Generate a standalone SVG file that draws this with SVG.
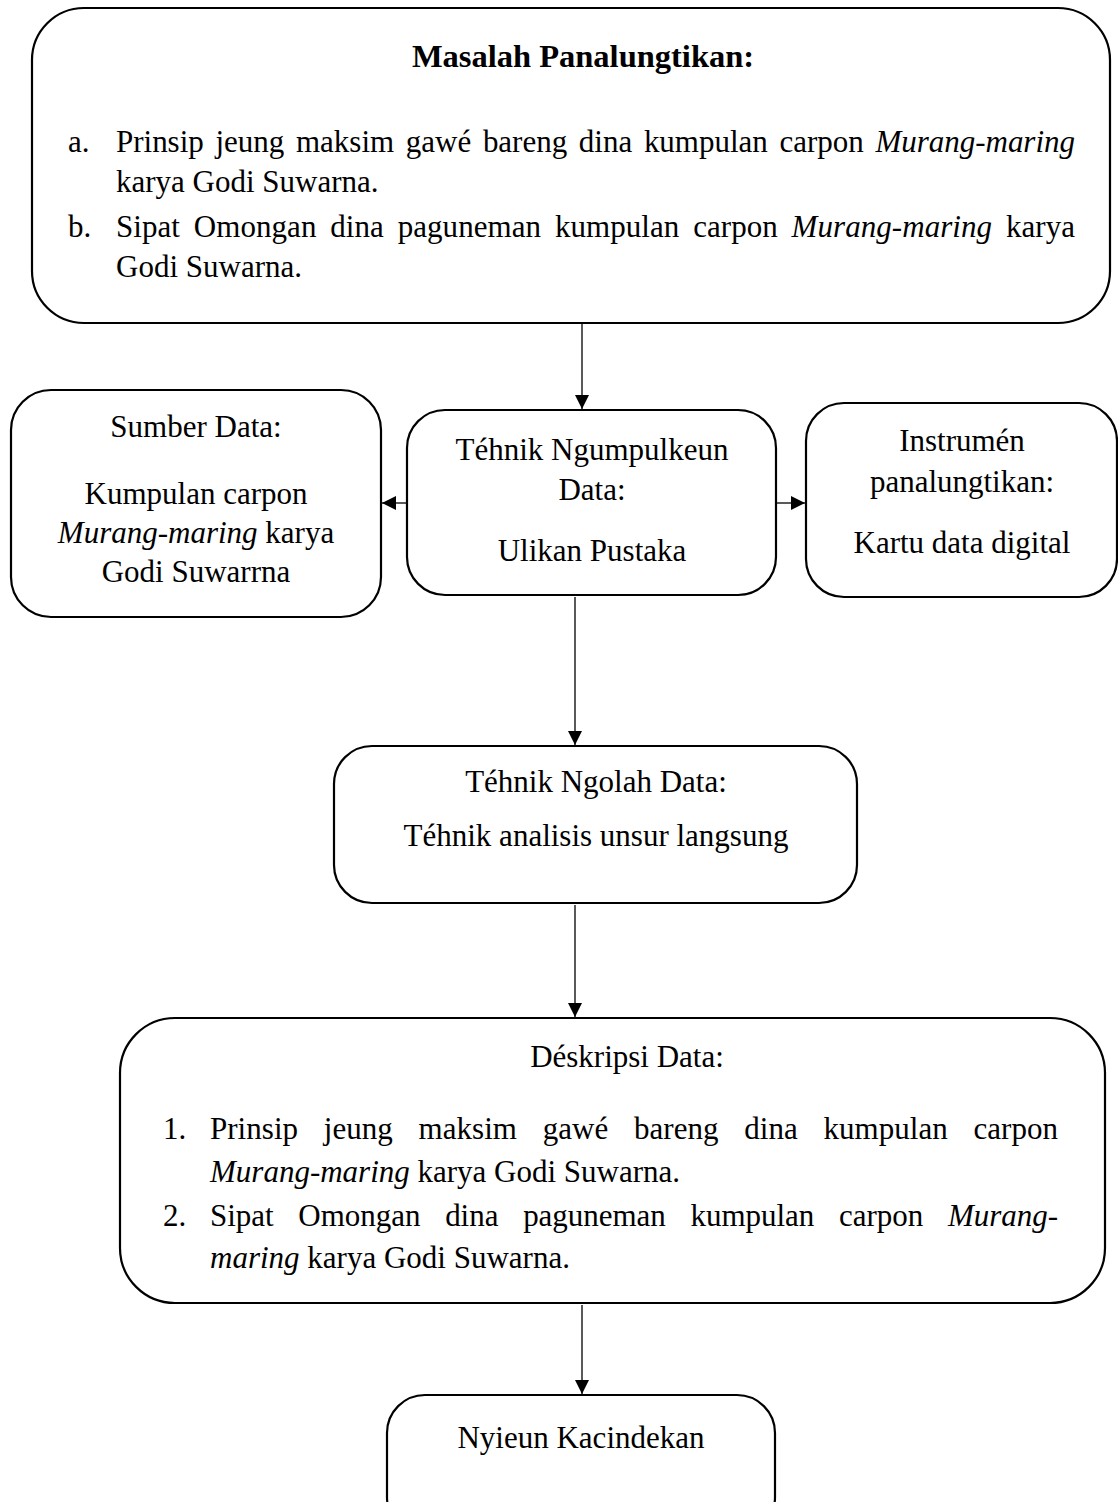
<svg xmlns="http://www.w3.org/2000/svg" width="1118" height="1502" viewBox="0 0 1118 1502">
<style>
.box{fill:#fff;stroke:#000;stroke-width:2.2}
.t{font-family:"Liberation Serif","Times New Roman",serif;font-size:31px;fill:#000}
.c{text-anchor:middle}
.b{font-weight:bold;font-size:32.5px}
.i{font-style:italic}
.con line{stroke:#000;stroke-width:1.3}
</style>
<defs>
<marker id="ah" viewBox="0 0 10 10" refX="10" refY="5" markerWidth="15" markerHeight="14" markerUnits="userSpaceOnUse" orient="auto"><path d="M0,0L10,5L0,10z" fill="#000"/></marker>
</defs>
<rect width="1118" height="1502" fill="#fff"/>
<g class="con">
<line x1="582" y1="324" x2="582" y2="409" marker-end="url(#ah)"/>
<line x1="407" y1="503" x2="382" y2="503" marker-end="url(#ah)"/>
<line x1="776" y1="503" x2="805" y2="503" marker-end="url(#ah)"/>
<line x1="575" y1="597" x2="575" y2="745" marker-end="url(#ah)"/>
<line x1="575" y1="905" x2="575" y2="1017" marker-end="url(#ah)"/>
<line x1="582" y1="1305" x2="582" y2="1394" marker-end="url(#ah)"/>
</g>
<g id="masalah">
<rect class="box" x="32" y="8" width="1078" height="315" rx="52"/>
<text class="t c b" x="583" y="67">Masalah Panalungtikan:</text>
<text class="t" x="68" y="152">a.</text>
<text class="t" x="116" y="152" word-spacing="4" textLength="959" lengthAdjust="spacing">Prinsip jeung maksim gawé bareng dina kumpulan carpon <tspan class="i">Murang-maring</tspan></text>
<text class="t" x="116" y="192">karya Godi Suwarna.</text>
<text class="t" x="68" y="237">b.</text>
<text class="t" x="116" y="237" word-spacing="6" textLength="959" lengthAdjust="spacing">Sipat Omongan dina paguneman kumpulan carpon <tspan class="i">Murang-maring</tspan> karya</text>
<text class="t" x="116" y="277">Godi Suwarna.</text>
</g>
<g id="sumber">
<rect class="box" x="11" y="390" width="370" height="227" rx="40"/>
<text class="t c" x="196" y="437">Sumber Data:</text>
<text class="t c" x="196" y="504">Kumpulan carpon</text>
<text class="t c" x="196" y="543"><tspan class="i">Murang-maring</tspan> karya</text>
<text class="t c" x="196" y="582">Godi Suwarrna</text>
</g>
<g id="ngumpulkeun">
<rect class="box" x="407" y="410" width="369" height="185" rx="38"/>
<text class="t c" x="592" y="460">Téhnik Ngumpulkeun</text>
<text class="t c" x="592" y="500">Data:</text>
<text class="t c" x="592" y="561">Ulikan Pustaka</text>
</g>
<g id="instrumen">
<rect class="box" x="806" y="403" width="311" height="194" rx="38"/>
<text class="t c" x="962" y="451">Instrumén</text>
<text class="t c" x="962" y="492">panalungtikan:</text>
<text class="t c" x="962" y="553">Kartu data digital</text>
</g>
<g id="ngolah">
<rect class="box" x="334" y="746" width="523" height="157" rx="38"/>
<text class="t c" x="596" y="792">Téhnik Ngolah Data:</text>
<text class="t c" x="596" y="846">Téhnik analisis unsur langsung</text>
</g>
<g id="deskripsi">
<rect class="box" x="120" y="1018" width="985" height="285" rx="55"/>
<text class="t c" x="627" y="1067">Déskripsi Data:</text>
<text class="t" x="163" y="1139">1.</text>
<text class="t" x="210" y="1139" word-spacing="18" textLength="848" lengthAdjust="spacing">Prinsip jeung maksim gawé bareng dina kumpulan carpon</text>
<text class="t" x="210" y="1182"><tspan class="i">Murang-maring</tspan> karya Godi Suwarna.</text>
<text class="t" x="163" y="1226">2.</text>
<text class="t" x="210" y="1226" word-spacing="17" textLength="848" lengthAdjust="spacing">Sipat Omongan dina paguneman kumpulan carpon <tspan class="i">Murang-</tspan></text>
<text class="t" x="210" y="1268"><tspan class="i">maring</tspan> karya Godi Suwarna.</text>
</g>
<g id="kacindekan">
<rect class="box" x="387" y="1395" width="388" height="140" rx="38"/>
<text class="t c" x="581" y="1448">Nyieun Kacindekan</text>
</g>
</svg>
